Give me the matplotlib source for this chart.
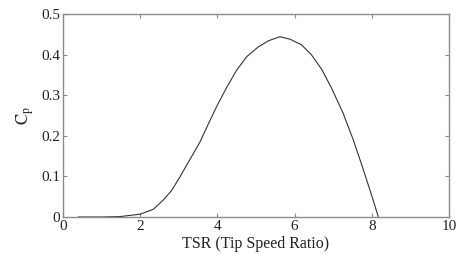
import matplotlib
matplotlib.use('Agg')
import matplotlib.pyplot as plt

# Cp vs TSR curve
tsr = [0.4, 1.0, 1.48, 2.0, 2.34, 2.6, 2.82, 3.03, 3.29, 3.55, 3.76,
       3.98, 4.24, 4.5, 4.76, 5.06, 5.32, 5.62, 5.88, 6.18, 6.44, 6.7,
       6.96, 7.26, 7.52, 7.78, 8.0, 8.17]
cp = [0.0, 0.0, 0.001, 0.007, 0.019, 0.042, 0.066, 0.099, 0.142, 0.185,
      0.228, 0.272, 0.319, 0.362, 0.395, 0.419, 0.434, 0.444,
      0.438, 0.424, 0.399, 0.364, 0.317, 0.255, 0.19, 0.117, 0.052, 0.0]
xticks = [0, 2, 4, 6, 8, 10]
yticks = [0, 0.1, 0.2, 0.3, 0.4, 0.5]

plt.rcParams['font.family'] = ['Liberation Serif', 'DejaVu Serif']
plt.rcParams['mathtext.fontset'] = 'stix'

fig = plt.figure(figsize=(4.61, 2.58), dpi=100)
ax = fig.add_axes([63/461, 1-217/258, (449-63)/461, (217-14)/258])

ax.plot(tsr, cp, color='#333333', linewidth=0.8)

ax.set_xlim(0, 10)
ax.set_ylim(0, 0.5)
ax.set_xticks(xticks)
ax.set_yticks(yticks)
ax.set_xticklabels([str(t) for t in xticks])
ax.set_yticklabels(['0', '0.1', '0.2', '0.3', '0.4', '0.5'])

for s in ax.spines.values():
    s.set_color('#8a8a8a')
    s.set_linewidth(1.0)
ax.tick_params(direction='in', top=True, right=True, length=3,
               color='#8a8a8a', labelsize=11, labelcolor='#222222', pad=2)

ax.set_xlabel('TSR (Tip Speed Ratio)', fontsize=11.5, color='#222222', labelpad=2)
ax.set_ylabel(r'$\mathrm{C_p}$', fontsize=12, color='#222222', labelpad=4)

fig.savefig('out.png', dpi=100)
